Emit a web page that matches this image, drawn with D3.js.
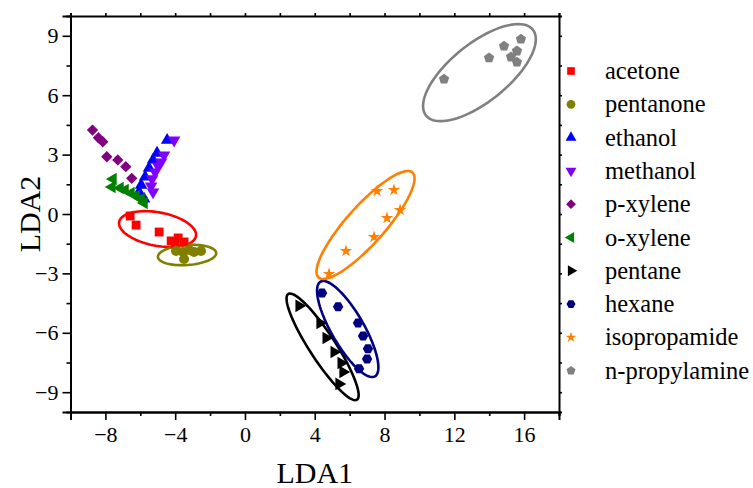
<!DOCTYPE html>
<html>
<head>
<meta charset="utf-8">
<script src="https://cdn.jsdelivr.net/npm/d3@7/dist/d3.min.js"></script>
<style>
  body { margin: 0; background: #fff; }
  text { font-family: "Times New Roman", "Liberation Serif", serif; fill: #000; }
</style>
</head>
<body>
<div id="chart"></div>
<script>
// LDA scores
var names  = ["acetone", "pentanone", "ethanol", "methanol", "p-xylene",
              "o-xylene", "pentane", "hexane", "isopropamide", "n-propylamine"];
var colors = ["#ff0000", "#808000", "#0000ff", "#8000ff", "#800080",
              "#008000", "#000000", "#000080", "#ff8000", "#808080"];
var shapes = ["square", "circle", "up", "down", "diamond",
              "left", "right", "hexagon", "star", "pentagon"];

var acetoneX   = [-6.58, -6.24, -4.92, -4.23, -3.83, -3.49, -4.0];
var acetoneY   = [-0.10, -0.56, -0.91, -1.36, -1.21, -1.41, -1.51];
var pentanoneX = [-3.95, -3.55, -3.49, -3.20, -2.92, -2.52];
var pentanoneY = [-1.87, -1.92, -2.27, -1.82, -1.92, -1.87];
var ethanolX   = [-4.46, -5.04, -5.27, -5.50, -5.72, -5.95, -6.07, -5.78];
var ethanolY   = [3.73, 3.08, 2.73, 2.32, 1.87, 1.46, 1.11, 0.76];
var methanolX  = [-4.06, -4.64, -4.81, -4.98, -5.15, -5.32, -5.38, -5.27];
var methanolY  = [3.73, 2.98, 2.62, 2.42, 2.12, 1.77, 1.41, 1.11];
var pxyleneX   = [-8.74, -8.40, -8.15, -7.92, -7.29, -6.83, -6.49];
var pxyleneY   = [4.24, 3.85, 3.65, 2.89, 2.73, 2.39, 1.80];
var oxyleneX   = [-7.56, -7.62, -7.16, -6.87, -6.53, -6.24, -5.95, -5.78];
var oxyleneY   = [1.77, 1.36, 1.31, 1.21, 1.06, 0.91, 0.76, 0.56];
var pentaneX   = [3.10, 4.30, 4.65, 5.11, 5.51, 5.62, 5.39];
var pentaneY   = [-4.64, -5.50, -6.26, -6.97, -7.52, -7.98, -8.58];
var hexaneX    = [4.42, 5.34, 6.48, 6.77, 7.05, 7.00, 6.54];
var hexaneY    = [-3.99, -4.69, -5.50, -6.16, -6.81, -7.32, -7.82];
var isopropX   = [7.57, 8.54, 8.89, 8.14, 7.40, 5.79, 4.82];
var isopropY   = [1.16, 1.21, 0.20, -0.20, -1.16, -1.87, -3.03];
var propylX    = [11.41, 13.99, 14.85, 15.82, 15.59, 15.25, 15.59];
var propylY    = [6.81, 7.88, 8.48, 8.83, 8.23, 7.93, 7.67];

var seriesX = [acetoneX, pentanoneX, ethanolX, methanolX, pxyleneX,
               oxyleneX, pentaneX, hexaneX, isopropX, propylX];
var seriesY = [acetoneY, pentanoneY, ethanolY, methanolY, pxyleneY,
               oxyleneY, pentaneY, hexaneY, isopropY, propylY];

// group ellipses: centre and two conjugate semi-axes, all in LDA units
var ellipseGroup = [0, 1, 6, 7, 8, 9];
var ellipseCx = [-5.01, -3.32, 4.45, 5.89, 6.91, 13.44];
var ellipseCy = [-0.76, -2.07, -6.71, -5.81, -0.555, 7.14];
var ellipseAx = [2.20, 1.67, 1.97, 1.56, 2.69, 3.06];
var ellipseAy = [-0.36, 0.103, -2.67, -2.39, 2.65, 2.17];
var ellipseBx = [-0.175, 0.04, -0.625, -0.81, 0.81, 1.04];
var ellipseBy = [-0.83, -0.504, -0.357, -0.41, -0.64, -1.14];

var xTicks = [-8, -4, 0, 4, 8, 12, 16];
var xMinor = [-10, -6, -2, 2, 6, 10, 14, 18];
var yTicks = [-9, -6, -3, 0, 3, 6, 9];
var yMinor = [-7.5, -4.5, -1.5, 1.5, 4.5, 7.5];

var W = 753, H = 488;
var m = { left: 70.5, right: 194, top: 16, bottom: 76 };
var serif = "'Times New Roman', 'Liberation Serif', serif";

var svg = d3.select("#chart").append("svg")
    .attr("width", W).attr("height", H);

var x = d3.scaleLinear().domain([-10, 18]).range([m.left, W - m.right]);
var y = d3.scaleLinear().domain([-10, 10]).range([H - m.bottom, m.top]);

function polygon(n, rot) {
  return {
    draw: function (ctx, size) {
      var r = Math.sqrt(size / (n / 2 * Math.sin(2 * Math.PI / n)));
      for (var i = 0; i < n; i++) {
        var a = rot + i * 2 * Math.PI / n;
        if (i == 0) ctx.moveTo(r * Math.sin(a), -r * Math.cos(a));
        else ctx.lineTo(r * Math.sin(a), -r * Math.cos(a));
      }
      ctx.closePath();
    }
  };
}

var symbolDefs = {
  square:   { type: d3.symbolSquare, size: 78, rot: 0 },
  circle:   { type: d3.symbolCircle, size: 80, rot: 0 },
  up:       { type: d3.symbolTriangle, size: 68, rot: 0 },
  down:     { type: d3.symbolTriangle, size: 68, rot: 180 },
  diamond:  { type: d3.symbolSquare, size: 64, rot: 45 },
  left:     { type: d3.symbolTriangle, size: 68, rot: -90 },
  right:    { type: d3.symbolTriangle, size: 68, rot: 90 },
  hexagon:  { type: polygon(6, Math.PI / 6), size: 70, rot: 0 },
  star:     { type: d3.symbolStar, size: 48, rot: 0 },
  pentagon: { type: polygon(5, 0), size: 70, rot: 0 }
};

function symbolPath(name, scale) {
  var s = symbolDefs[name];
  return d3.symbol().type(s.type).size(s.size * scale)();
}

// axes
var axisG = svg.append("g");

axisG.append("g")
    .attr("transform", "translate(0," + y(-10) + ")")
    .call(d3.axisBottom(x).tickValues(xTicks).tickSize(8).tickPadding(6).tickFormat(d3.format("d")));
axisG.append("g")
    .attr("transform", "translate(0," + y(-10) + ")")
    .call(d3.axisBottom(x).tickValues(xMinor).tickSize(4).tickFormat(""));
axisG.append("g")
    .attr("transform", "translate(" + x(-10) + ",0)")
    .call(d3.axisLeft(y).tickValues(yTicks).tickSize(8).tickPadding(4).tickFormat(d3.format("d")));
axisG.append("g")
    .attr("transform", "translate(" + x(-10) + ",0)")
    .call(d3.axisLeft(y).tickValues(yMinor).tickSize(4).tickFormat(""));
// top and right frame, short outward ticks
axisG.append("g")
    .attr("transform", "translate(0," + y(10) + ")")
    .call(d3.axisTop(x).tickValues(xTicks.concat(xMinor)).tickSize(3).tickFormat(""));
axisG.append("g")
    .attr("transform", "translate(" + x(18) + ",0)")
    .call(d3.axisRight(y).tickValues(yTicks.concat(yMinor)).tickSize(3).tickFormat(""));

axisG.selectAll("g").attr("font-family", serif);
axisG.selectAll(".domain").attr("stroke", "#000").attr("stroke-width", 2);
axisG.selectAll(".tick line").attr("stroke", "#000").attr("stroke-width", 1.6);
axisG.selectAll(".tick text").style("font-family", serif).style("font-size", "22px");

svg.append("text")
    .attr("x", x(4)).attr("y", 483)
    .attr("text-anchor", "middle")
    .style("font-family", serif)
    .style("font-size", "30px")
    .text("LDA1");

svg.append("text")
    .attr("transform", "translate(40," + y(0) + ") rotate(-90)")
    .attr("text-anchor", "middle")
    .style("font-family", serif)
    .style("font-size", "30px")
    .text("LDA2");

// ellipses
var ell = d3.line()
    .x(function (p) { return x(p[0]); })
    .y(function (p) { return y(p[1]); })
    .curve(d3.curveLinearClosed);

ellipseGroup.forEach(function (g, i) {
  var pts = d3.range(90).map(function (k) {
    var t = k / 90 * 2 * Math.PI;
    return [ellipseCx[i] + ellipseAx[i] * Math.cos(t) + ellipseBx[i] * Math.sin(t),
            ellipseCy[i] + ellipseAy[i] * Math.cos(t) + ellipseBy[i] * Math.sin(t)];
  });
  svg.append("path")
      .attr("d", ell(pts))
      .attr("fill", "none")
      .attr("stroke", colors[g])
      .attr("stroke-width", 2.6);
});

// points
names.forEach(function (n, i) {
  var rot = symbolDefs[shapes[i]].rot;
  svg.append("g").selectAll("path")
      .data(d3.range(seriesX[i].length))
    .enter().append("path")
      .attr("d", symbolPath(shapes[i], 1))
      .attr("transform", function (k) {
        return "translate(" + x(seriesX[i][k]) + "," + y(seriesY[i][k]) + ") rotate(" + rot + ")";
      })
      .attr("fill", colors[i]);
});

// legend
var leg = svg.append("g").attr("transform", "translate(571,71)");
names.forEach(function (n, i) {
  var row = leg.append("g").attr("transform", "translate(0," + i * 33.3 + ")");
  row.append("path")
      .attr("d", symbolPath(shapes[i], 0.75))
      .attr("transform", "rotate(" + symbolDefs[shapes[i]].rot + ")")
      .attr("fill", colors[i]);
  row.append("text")
      .attr("x", 34).attr("y", 8)
      .style("font-family", serif)
      .style("font-size", "24.5px")
      .text(n);
});
</script>
</body>
</html>
